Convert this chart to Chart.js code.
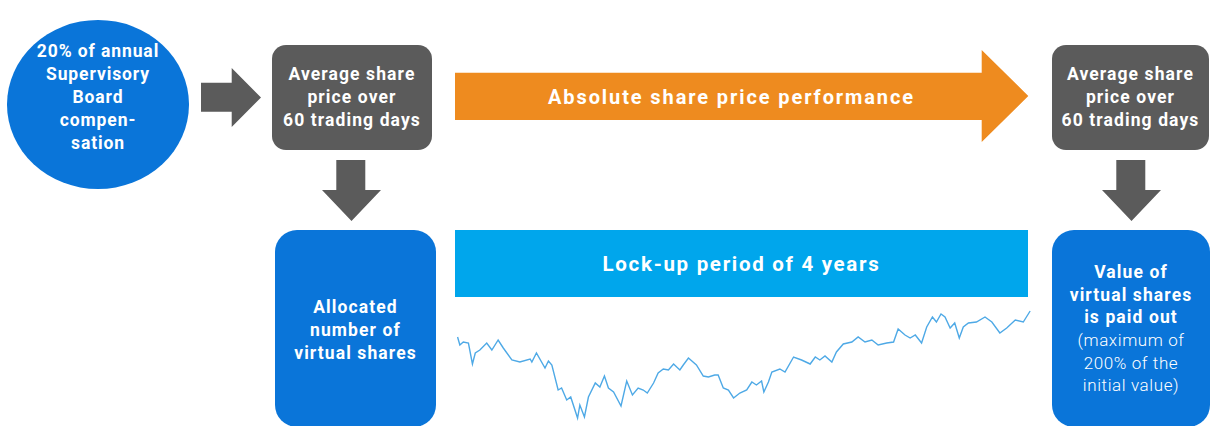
<!DOCTYPE html>
<html>
<head>
<meta charset="utf-8">
<script src="https://cdn.jsdelivr.net/npm/chart.js@4"></script>
<style>
  html, body { margin: 0; padding: 0; background: #fff; }
  body { width: 1210px; height: 426px; position: relative; overflow: hidden;
         font-family: Roboto, "Open Sans", sans-serif; color: #fff; }
  .abs { position: absolute; }
  .b { font-weight: 700; }
  .txt { position: absolute; text-align: center; font-weight: 700; font-size: 17.5px;
         line-height: 23px; letter-spacing: 1.1px; }
  .gray { background: #5b5b5b; border-radius: 14px; }
  .blue { background: #0a75d9; border-radius: 22px; display: flex; align-items: center;
          justify-content: center; text-align: center; }
  .arrow { background: #5b5b5b; }
  #chartWrap { position: absolute; left: 450px; top: 300px; width: 590px; height: 126px; }
</style>
</head>
<body>

<!-- circle -->
<div class="abs" style="left:7px;top:20px;width:182px;height:169px;border-radius:50%;background:#0a75d9;"></div>
<div class="txt" style="left:8px;top:40px;width:180px;letter-spacing:0.9px;">20% of annual<br>Supervisory<br>Board<br>compen-<br>sation</div>

<!-- arrow right -->
<div class="abs arrow" style="left:201px;top:68px;width:60px;height:59px;
  clip-path:polygon(0 14.7px,30.7px 14.7px,30.7px 0,60px 29.5px,30.7px 59px,30.7px 43.7px,0 43.7px);"></div>

<!-- gray boxes -->
<div class="abs gray" style="left:272px;top:45px;width:160px;height:105px;"></div>
<div class="txt" style="left:272px;top:63px;width:160px;letter-spacing:1.1px;">Average share<br>price over<br>60 trading days</div>
<div class="abs gray" style="left:1052px;top:45px;width:157px;height:105px;"></div>
<div class="txt" style="left:1052px;top:63px;width:157px;letter-spacing:1.1px;">Average share<br>price over<br>60 trading days</div>

<!-- down arrows -->
<div class="abs arrow" style="left:322px;top:160px;width:59px;height:61px;
  clip-path:polygon(14.3px 0,43.3px 0,43.3px 30px,59px 30px,29.5px 61px,0 30px,14.3px 30px);"></div>
<div class="abs arrow" style="left:1102px;top:160px;width:59px;height:61px;
  clip-path:polygon(14.3px 0,43.3px 0,43.3px 30px,59px 30px,29.5px 61px,0 30px,14.3px 30px);"></div>

<!-- orange arrow -->
<div class="abs" style="left:455px;top:50px;width:574px;height:92px;background:#ee8b1f;
  clip-path:polygon(0 22.7px,526.7px 22.7px,526.7px 0,573.3px 46px,526.7px 92px,526.7px 70px,0 70px);"></div>
<div class="txt" style="left:455px;top:86px;width:553px;font-size:20px;letter-spacing:1.9px;">Absolute share price performance</div>

<!-- light blue bar -->
<div class="abs" style="left:455px;top:230px;width:573px;height:67px;background:#00a6ec;"></div>
<div class="txt" style="left:455px;top:253px;width:573px;font-size:20.5px;letter-spacing:1.7px;">Lock-up period of 4 years</div>

<!-- blue boxes -->
<div class="abs blue" style="left:275px;top:230px;width:161px;height:197px;">
  <div class="b" style="font-size:17.5px;line-height:23px;letter-spacing:1.1px;margin-top:3px;">Allocated<br>number of<br>virtual shares</div>
</div>
<div class="abs blue" style="left:1052px;top:230px;width:158px;height:197px;">
  <div style="font-size:17px;line-height:22.6px;margin-top:1px;">
    <span class="b" style="font-size:17.5px;letter-spacing:1.1px;">Value of<br>virtual shares<br>is paid out</span><br>
    <span style="font-weight:300;letter-spacing:0.6px;">(maximum of<br>200% of the<br>initial value)</span>
  </div>
</div>

<!-- share price line -->
<div id="chartWrap"><canvas id="c" width="590" height="126"></canvas></div>

<script>
// trading days over the 4-year lock-up and the share price index
const tradingDays = [1, 5, 11, 20, 27, 32, 40, 52, 61, 72, 81, 96, 110, 128, 131, 139, 154, 160, 166, 177,
    183, 192, 199, 211, 215, 223, 230, 242, 250, 258, 265, 274, 287, 297, 307, 317, 326, 333, 344, 352,
    361, 370, 379, 390, 396, 405, 419, 431, 440, 451, 457, 466, 475, 484, 495, 507, 516, 524, 533, 537,
    545, 551, 565, 574, 589, 603, 618, 627, 635, 644, 656, 664, 676, 691, 702, 714, 726, 737, 752, 764,
    772, 784, 793, 802, 813, 822, 832, 839, 847, 854, 863, 871, 879, 886, 895, 909, 924, 936, 950, 962,
    977, 991, 1003];
const sharePrice = [93, 85, 88, 87, 66, 77, 80, 87, 80, 90, 82, 70, 68, 71, 68, 77, 62, 69, 65, 40,
    42, 30, 33, 12, 25, 13, 33, 47, 43, 54, 42, 38, 24, 49, 35, 42, 40, 37, 47, 57,
    61, 60, 66, 60, 65, 72, 65, 54, 53, 55, 55, 42, 40, 32, 37, 40, 48, 45, 49, 38,
    48, 58, 61, 58, 73, 70, 66, 73, 70, 74, 68, 78, 86, 88, 93, 88, 90, 85, 87, 88,
    101, 95, 92, 95, 87, 103, 113, 108, 116, 113, 102, 107, 92, 103, 107, 108, 113, 108, 97, 102,
    110, 108, 119];

const ctx = document.getElementById("c").getContext("2d");
const points = tradingDays.map((d, i) => ({ x: d, y: sharePrice[i] }));

new Chart(ctx, {
    type: 'line',
    data: {
        datasets: [{
            label: 'Share price',
            data: points,
            borderColor: '#4ea9e6',
            borderWidth: 1.4,
            pointRadius: 0,
            tension: 0,
            fill: false
        }]
    },
    options: {
        responsive: false,
        animation: false,
        layout: { padding: 0 },
        scales: {
            x: { type: 'linear', min: -12.25, max: 1020.25, display: false },
            y: { min: 4, max: 130, display: false }
        },
        plugins: {
            legend: { display: false },
            tooltip: { enabled: false }
        }
    }
});
</script>
</body>
</html>
